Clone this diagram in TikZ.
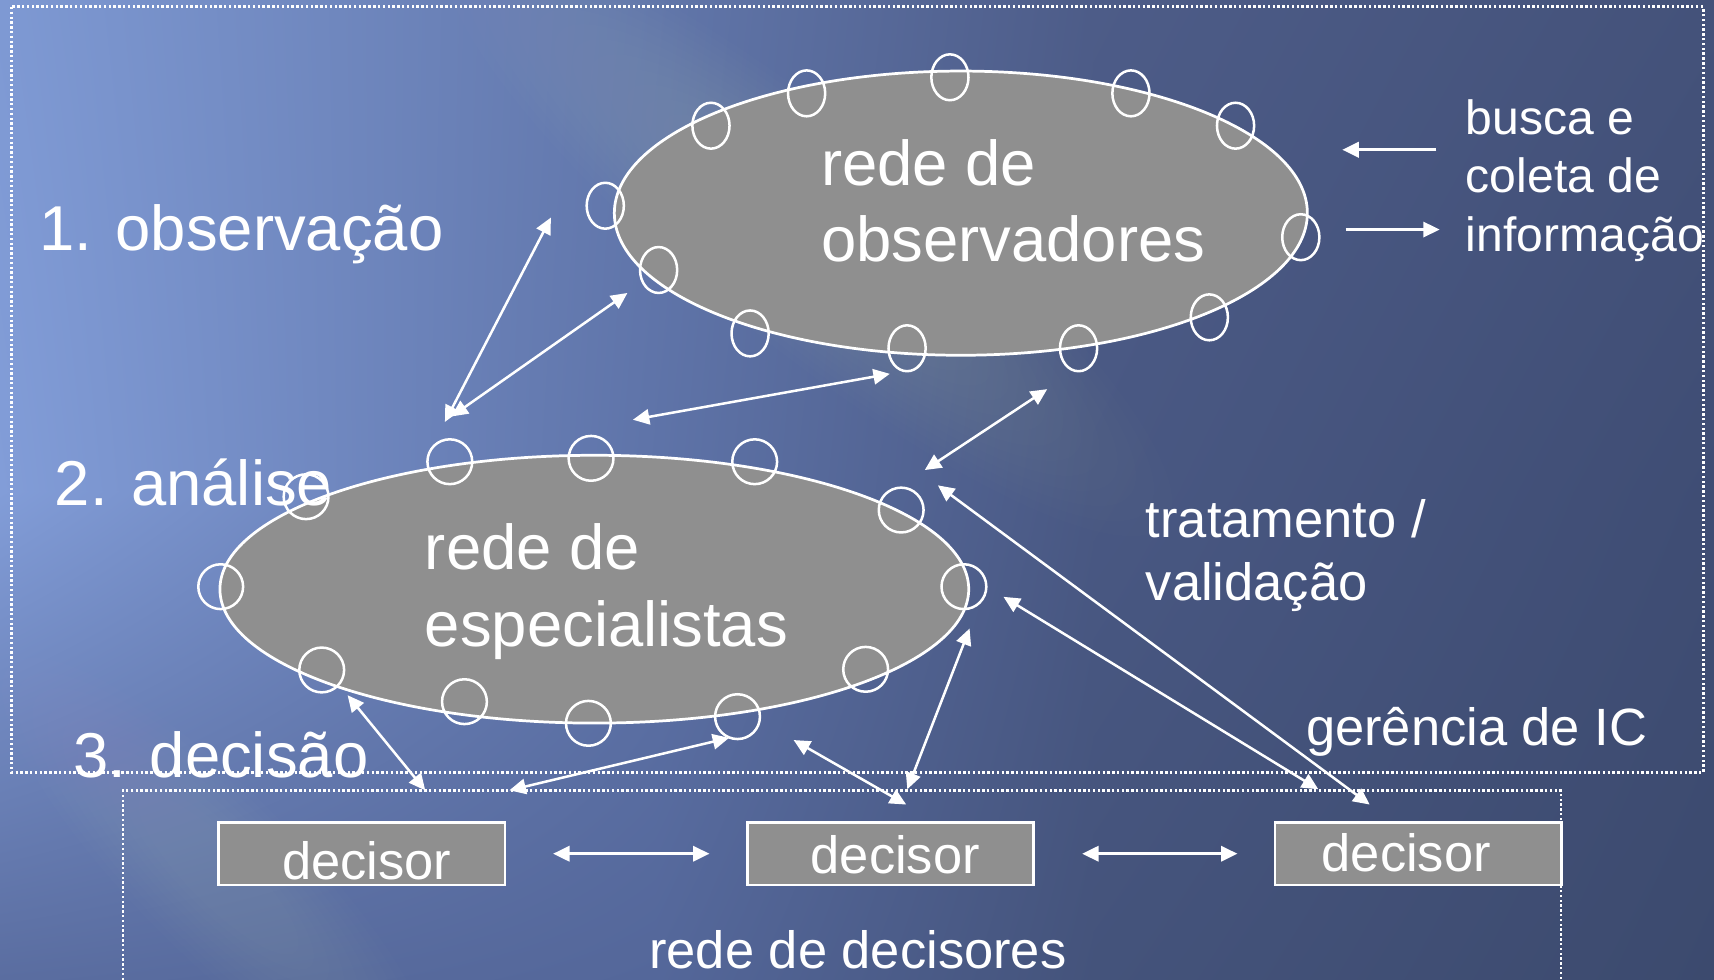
\documentclass[tikz,border=0pt]{standalone}
\usepackage{fontspec}
\setmainfont{Liberation Sans}
\usetikzlibrary{arrows.meta,shapes.geometric,shadings}
\definecolor{ellfill}{HTML}{8F8F8F}
\definecolor{cA}{HTML}{7E99D3}
\definecolor{cB}{HTML}{6176AA}
\definecolor{cC}{HTML}{4D5C88}
\definecolor{cD}{HTML}{44527A}
\definecolor{dA}{HTML}{829DD8}
\definecolor{dB}{HTML}{5E73A8}
\definecolor{dC}{HTML}{495883}
\definecolor{dD}{HTML}{3F4D74}
\definecolor{eA}{HTML}{5A6DA0}
\definecolor{eB}{HTML}{54679A}
\definecolor{eC}{HTML}{44537B}
\definecolor{eD}{HTML}{3C4A6E}
\tikzset{
  big/.style={anchor=base west, inner sep=0pt, text=white, font=\fontsize{58}{70}\selectfont},
  mid/.style={anchor=base west, inner sep=0pt, text=white, font=\fontsize{48}{58}\selectfont},
  small/.style={anchor=base west, inner sep=0pt, text=white, font=\fontsize{44}{53}\selectfont},
  netell/.style={ellipse, draw=white, line width=2.5pt, fill=ellfill, inner sep=0pt},
  obsdot/.style={ellipse, draw=white, line width=2.3pt, inner sep=0pt, minimum width=34pt, minimum height=42pt},
  espdot/.style={circle, draw=white, line width=2.3pt, inner sep=0pt, minimum size=41pt},
  decbox/.style={rectangle, draw=white, line width=2.5pt, fill=ellfill, inner sep=0pt, minimum width=262pt, minimum height=57pt},
  frame/.style={draw=white, line width=2.6pt, dash pattern=on 2.2pt off 2.2pt},
  glow/.style={fill=white, opacity=0.009},
  arr/.style={draw=white, line width=2.3pt, -{Triangle[length=15pt,width=14pt]}},
  dbl/.style={draw=white, line width=2.3pt, {Triangle[length=15pt,width=14pt]}-{Triangle[length=15pt,width=14pt]}}
}
\begin{document}
\begin{tikzpicture}[x=1pt,y=-1pt]
\useasboundingbox (0,0) rectangle (1568,896);
% background
\shade[upper left=cA, upper right=cB, lower left=dA, lower right=dB] (0,0) rectangle (600.5,450.5);
\shade[upper left=cB, upper right=cC, lower left=dB, lower right=dC] (600,0) rectangle (1000.5,450.5);
\shade[upper left=cC, upper right=cD, lower left=dC, lower right=dD] (1000,0) rectangle (1568,450.5);
\shade[upper left=dA, upper right=dB, lower left=eA, lower right=eB] (0,450) rectangle (600.5,896);
\shade[upper left=dB, upper right=dC, lower left=eB, lower right=eC] (600,450) rectangle (1000.5,896);
\shade[upper left=dC, upper right=dD, lower left=eC, lower right=eD] (1000,450) rectangle (1568,896);
% soft light streaks
\begin{scope}
\clip (0,0) rectangle (1568,896);
\foreach \s in {1,0.95,...,0.2}
  \fill[glow, rotate around={-39:(740,215)}] (740,215) ellipse [x radius=\s*420pt, y radius=\s*100pt];
\foreach \s in {1,0.93,...,0.3}
  \fill[glow, rotate around={-45:(200,800)}] (200,800) ellipse [x radius=\s*270pt, y radius=\s*75pt];
\end{scope}
% frames
\draw[frame] (10.5,6.3) rectangle (1558,706.5);
\draw[frame] (1428,900) -- (1428,723.3) -- (112.5,723.3) -- (112.5,900);
% networks
\node[netell, minimum width=634pt, minimum height=260pt] (obsnet) at (879,195) {};
\node[netell, minimum width=685pt, minimum height=245pt] (espnet) at (543.7,539) {};
\foreach \p [count=\i] in {{553.7,188.2},{602.5,247},{650.4,115},{737.9,85.4},{869,70.7},{1034.6,85.4},{1130.3,115},{1190,217},{1106.3,290.3},{986.7,318.6},{829.8,318.6},{686.2,305}}
  \node[obsdot] (o\i) at (\p) {};
\foreach \p [count=\i] in {{201.9,536.7},{280,454.4},{411.5,422.4},{540.7,419.3},{690.4,422.4},{824.4,466.6},{881.8,536.7},{791.9,612.3},{674.7,655.6},{538.3,661.7},{424.9,641.9},{294.3,612.9}}
  \node[espdot] (s\i) at (\p) {};
% decision boxes
\node[decbox] (d1) at (331,781) {};
\node[decbox] (d2) at (814.5,781) {};
\node[decbox] (d3) at (1297.3,781) {};
% arrow end points
\coordinate (a1s) at (407,386); \coordinate (a1e) at (504,199);
\coordinate (a2s) at (413,381); \coordinate (a2e) at (574,268);
\coordinate (a3s) at (579,384); \coordinate (a3e) at (814,342);
\coordinate (a4s) at (846,430); \coordinate (a4e) at (958,356);
\coordinate (a5s) at (858,444); \coordinate (a5e) at (1253,736);
\coordinate (a6s) at (918,546); \coordinate (a6e) at (1206,722);
\coordinate (a7s) at (1314,137); \coordinate (a7e) at (1228,137);
\coordinate (a8s) at (1231,210); \coordinate (a8e) at (1317,210);
\coordinate (a9s) at (318,636); \coordinate (a9e) at (389,723);
\coordinate (a10s) at (466,723); \coordinate (a10e) at (667,675);
\coordinate (a11s) at (726,677); \coordinate (a11e) at (829,736);
\coordinate (a12s) at (830,722); \coordinate (a12e) at (887,575);
\coordinate (a13s) at (506,781); \coordinate (a13e) at (649,781);
\coordinate (a14s) at (990,781); \coordinate (a14e) at (1132,781);
\draw[dbl] (a1s) -- (a1e);
\draw[dbl] (a2s) -- (a2e);
\draw[dbl] (a3s) -- (a3e);
\draw[dbl] (a4s) -- (a4e);
\draw[dbl] (a5s) -- (a5e);
\draw[dbl] (a6s) -- (a6e);
\draw[arr] (a7s) -- (a7e);
\draw[arr] (a8s) -- (a8e);
\draw[dbl] (a9s) -- (a9e);
\draw[dbl] (a10s) -- (a10e);
\draw[dbl] (a11s) -- (a11e);
\draw[dbl] (a12s) -- (a12e);
\draw[dbl] (a13s) -- (a13e);
\draw[dbl] (a14s) -- (a14e);
% texts
\node[big] (t1) at (35.7,229) {1. observação};
\node[big] (t2) at (50,462) {2. análise};
\node[big] (t3) at (67,711) {3. decisão};
\node[big] (obs1) at (751,170) {rede de};
\node[big] (obs2) at (751,239.4) {observadores};
\node[big] (esp1) at (388.5,520.8) {rede de};
\node[big] (esp2) at (388.5,591) {especialistas};
\node[small] (bc1) at (1340.8,123.5) {busca e};
\node[small] (bc2) at (1340.8,176.3) {coleta de};
\node[small] (bc3) at (1340.8,230.2) {informação};
\node[mid] (tv1) at (1048,491.6) {tratamento /};
\node[mid] (tv2) at (1048,548.9) {validação};
\node[mid] (gic) at (1194.6,681.6) {gerência de IC};
\node[mid] (dt1) at (257.9,804.4) {decisor};
\node[mid] (dt2) at (741.4,799) {decisor};
\node[mid] (dt3) at (1208.9,797.4) {decisor};
\node[mid] (rdd) at (593.8,885.6) {rede de decisores};
\end{tikzpicture}
\end{document}
